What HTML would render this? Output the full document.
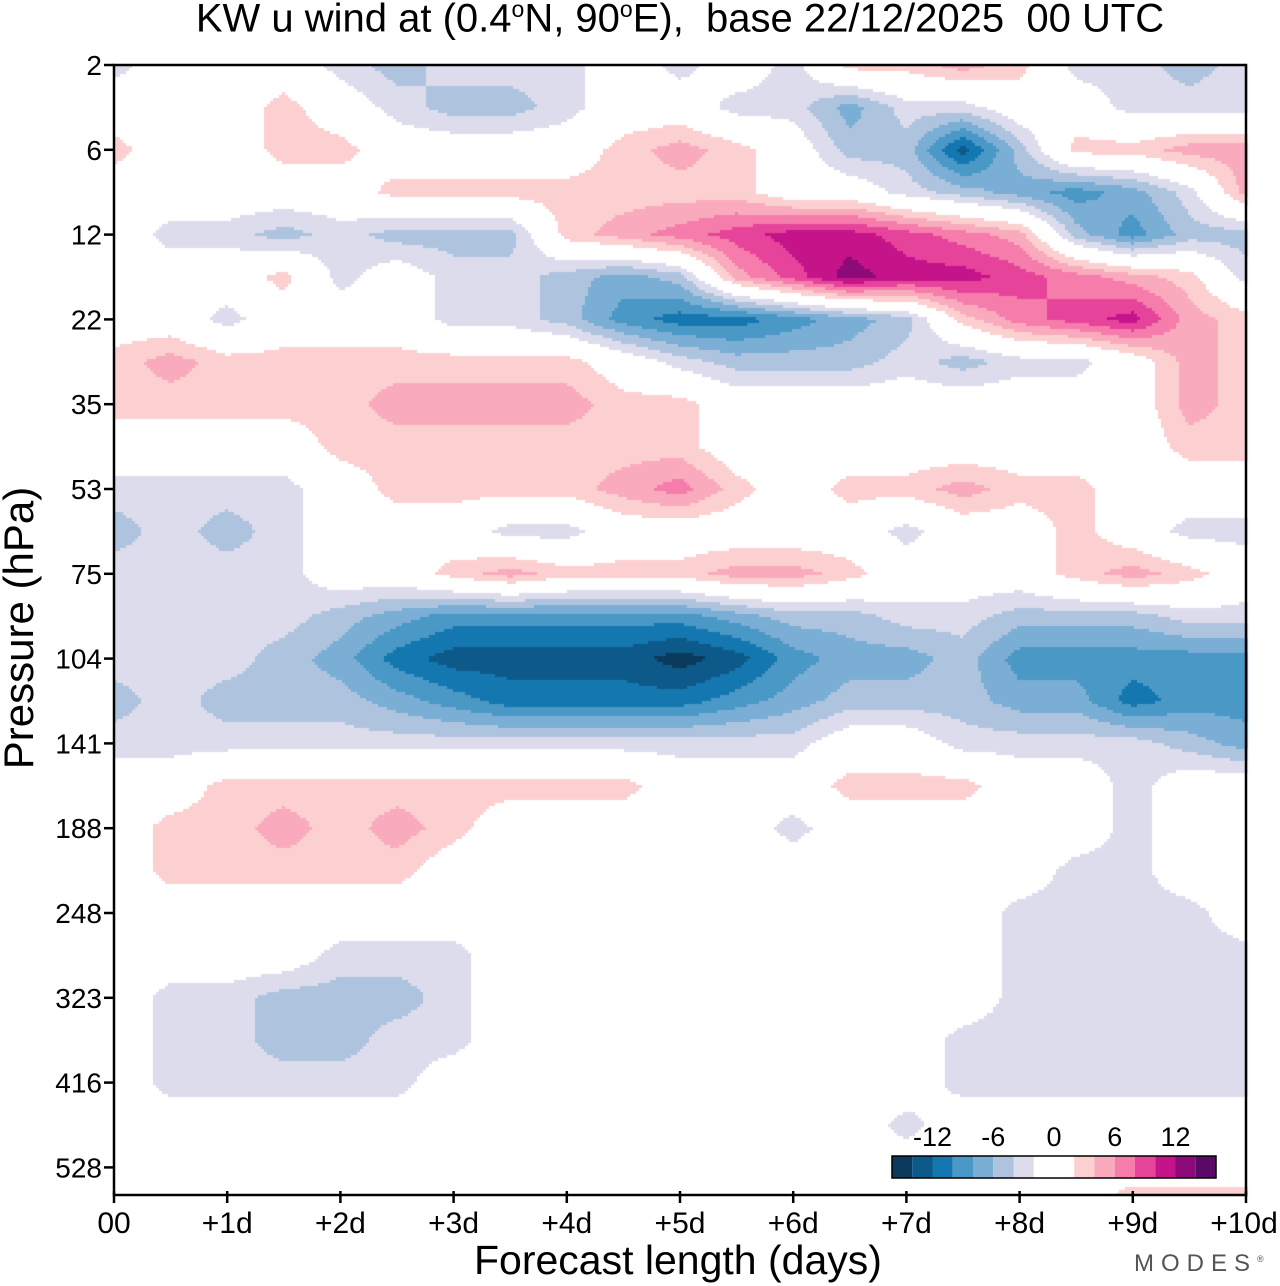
<!DOCTYPE html>
<html><head><meta charset="utf-8">
<style>
body{margin:0;background:#fff;width:1280px;height:1286px;position:relative;overflow:hidden;font-family:"Liberation Sans",Arial,sans-serif;}
.t{position:absolute;white-space:nowrap;color:#000;}
</style></head><body>
<div class="t" style="left:0;width:1360px;top:-4px;text-align:center;font-size:40px;">KW u wind at (0.4<sup style="font-size:23px">o</sup>N, 90<sup style="font-size:23px">o</sup>E),&nbsp; base 22/12/2025&nbsp; 00 UTC</div>
<canvas id="field" width="1280" height="1286" style="position:absolute;left:0;top:0"></canvas>
<svg id="ax" width="1280" height="1286" style="position:absolute;left:0;top:0"></svg>
<div class="t" style="left:474px;top:1237px;font-size:41px;">Forecast length (days)</div>
<div class="t" style="left:-126px;top:604px;font-size:42px;transform:rotate(-90deg);width:290px;text-align:center;">Pressure (hPa)</div>
<div class="t" style="left:1134px;top:1250px;font-size:24px;color:#555;letter-spacing:7px;">MODES<sup style="font-size:9px;letter-spacing:0">®</sup></div>
<script>
const timeDays=[0,0.5,1,1.5,2,2.5,3,3.5,4,4.5,5,5.5,6,6.5,7,7.5,8,8.5,9,9.5,10];
const rowIndex=[0,0.5,1,1.5,2,2.5,3,3.5,4,4.5,5,5.5,6,6.5,7,7.5,8,8.5,9,9.5,10,10.5,11,11.5,12,12.5,13,13.33];
const pressureLabels=["2","6","12","22","35","53","75","104","141","188","248","323","416","528"];
const xTickLabels=["00","+1d","+2d","+3d","+4d","+5d","+6d","+7d","+8d","+9d","+10d"];
const cbarLabels=["-12","-6","0","6","12"];
const cbarLabelValues=[-12,-6,0,6,12];
const levels=[-14,-12,-10,-8,-6,-4,-2,2,4,6,8,10,12,14];
const colors=["#0b3a5c","#0d5a8a","#1577b0","#4a98c6","#7aaed4","#aec4de","#dcdcec","#ffffff","#fcd0d0","#f9abbd","#f57cab","#e6449b","#c5138a","#8d0b78","#5a0a66"];
const windU=[
[-3,0,0,0,-3,-5,-3,-3,-3,0,-3,0,-3,3,3,5,3,-3,-3,-5,-3],
[0,0,0,3,0,-3,-5,-5,-3,0,0,-3,-3,-7,-3,-3,0,0,-3,-3,-3],
[3,0,0,3,3,0,0,0,0,3,5,3,0,-5,-5,-13,-5,3,3,5,5],
[0,0,0,0,0,3,3,3,3,3,3,3,0,0,-3,-5,-7,-9,-7,-3,5],
[0,-3,-3,-5,-3,-5,-5,-5,3,5,7,9,11,11,9,7,5,-5,-9,-5,-5],
[0,0,0,3,-3,0,-3,-3,-5,-7,-5,5,9,13,11,11,9,7,5,3,-3],
[0,0,-3,0,0,0,-3,-3,-5,-9,-11,-11,-9,-7,-5,3,7,9,11,5,3],
[3,5,3,3,3,3,3,3,3,0,-3,-5,-5,-5,-3,-5,-3,-3,0,5,3],
[3,3,3,3,3,5,5,5,5,3,3,0,0,0,0,0,0,0,0,5,3],
[0,0,0,0,3,3,3,3,3,3,3,0,0,0,0,0,0,0,0,3,3],
[-3,-3,-3,-3,0,3,3,3,3,5,7,3,0,3,3,5,3,3,0,0,0],
[-5,-3,-5,-3,0,0,0,-3,-3,0,0,0,0,0,-3,0,0,3,0,-3,-3],
[-3,-3,-3,-3,0,0,3,5,3,3,3,5,5,3,0,0,0,3,5,3,0],
[-3,-3,-3,-3,-5,-7,-9,-9,-9,-9,-9,-7,-5,-5,-3,-3,-5,-5,-5,-3,-3],
[-3,-3,-3,-5,-7,-11,-13,-13,-13,-13,-15,-13,-9,-7,-7,-5,-9,-9,-9,-9,-9],
[-5,-3,-5,-5,-5,-7,-9,-11,-11,-11,-11,-9,-7,-5,-5,-5,-7,-7,-11,-9,-9],
[-3,-3,-3,-3,-3,-3,-3,-3,-3,-3,-3,-3,-3,0,0,-3,-3,-3,-3,-5,-7],
[0,0,3,3,3,3,3,3,3,3,0,0,0,3,3,3,0,0,-3,0,0],
[0,3,3,5,3,5,3,0,0,0,0,0,-3,0,0,0,0,0,-3,0,0],
[0,3,3,3,3,3,0,0,0,0,0,0,0,0,0,0,0,-3,-3,0,0],
[0,0,0,0,0,0,0,0,0,0,0,0,0,0,0,0,-3,-3,-3,-3,0],
[0,0,0,0,-3,-3,-3,0,0,0,0,0,0,0,0,0,-3,-3,-3,-3,-3],
[0,-3,-3,-5,-5,-5,-3,0,0,0,0,0,0,0,0,0,-3,-3,-3,-3,-3],
[0,-3,-3,-5,-5,-3,-3,0,0,0,0,0,0,0,0,-3,-3,-3,-3,-3,-3],
[0,-3,-3,-3,-3,-3,0,0,0,0,0,0,0,0,0,-3,-3,-3,-3,-3,-3],
[0,0,0,0,0,0,0,0,0,0,0,0,0,0,-3,0,0,0,0,0,0],
[0,0,0,0,0,0,0,0,0,0,0,0,0,0,0,0,0,0,0,0,0],
[0,0,0,0,0,0,0,0,0,0,0,0,0,0,0,0,0,0,3,3,3]
];
const X0=114,X1=1246,Y0=65,YL=84.8,YB=1195;
function xScale(d){return X0+(X1-X0)*d/10;}
function yScale(r){return Y0+YL*r;}
function colorFor(v){let i=0;while(i<levels.length&&v>=levels[i])i++;return colors[i];}
const cv=document.getElementById('field'),ctx=cv.getContext('2d');
const step=3;
function interpAxis(arr,v){let i=0;while(i<arr.length-2&&v>arr[i+1])i++;let t=(v-arr[i])/(arr[i+1]-arr[i]);return [i,Math.max(0,Math.min(1,t))];}
for(let py=Y0;py<YB;py+=step){
  const r=(py+step/2-Y0)/YL;const [ri,rt]=interpAxis(rowIndex,r);
  for(let px=X0;px<X1;px+=step){
    const d=(px+step/2-X0)/(X1-X0)*10;const [ci,ct]=interpAxis(timeDays,d);
    const v=(1-rt)*((1-ct)*windU[ri][ci]+ct*windU[ri][ci+1])+rt*((1-ct)*windU[ri+1][ci]+ct*windU[ri+1][ci+1]);
    ctx.fillStyle=colorFor(v);ctx.fillRect(px,py,step,step);
  }
}
const svg=document.getElementById('ax'),NS='http://www.w3.org/2000/svg';
function mk(tag,at,name){const e=document.createElementNS(NS,tag);for(const k in at)e.setAttribute(k,at[k]);


svg.appendChild(e);return e;}
mk('rect',{x:X0,y:Y0,width:X1-X0,height:YB-Y0,fill:'none',stroke:'#000','stroke-width':2.5},'plot-frame');
pressureLabels.forEach((l,i)=>{const y=yScale(i);
 mk('line',{x1:X0-10,x2:X0,y1:y,y2:y,stroke:'#000','stroke-width':2.5},'y-tick');
 const t=mk('text',{x:X0-12,y:y+10,'text-anchor':'end','font-size':28,'font-family':'Liberation Sans'},'y-tick-label');t.textContent=l;});
xTickLabels.forEach((l,i)=>{const x=xScale(i);
 mk('line',{x1:x,x2:x,y1:YB-4,y2:YB+8,stroke:'#000','stroke-width':2.5},'x-tick');
 const t=mk('text',{x:i==10?x-2:x,y:YB+38,'text-anchor':'middle','font-size':30,'font-family':'Liberation Sans'},'x-tick-label');t.textContent=l;});
const CB0=892,CBW=20.25,CBY=1156,CBH=22;
function cbX(v){return CB0+(v+16)*CBW/2;}
colors.forEach((c,i)=>{const lo=i==0?-16:levels[i-1],hi=i==colors.length-1?16:levels[i];
 mk('rect',{x:cbX(lo),y:CBY,width:cbX(hi)-cbX(lo),height:CBH,fill:c},'colorbar-cell');});
mk('rect',{x:CB0,y:CBY,width:cbX(16)-CB0,height:CBH,fill:'none',stroke:'#000','stroke-width':1.5},'colorbar-border');
cbarLabels.forEach((l,i)=>{const t=mk('text',{x:cbX(cbarLabelValues[i]),y:CBY-10,'text-anchor':'middle','font-size':27,'font-family':'Liberation Sans'},'colorbar-label');t.textContent=l;});
</script>
</body></html>
